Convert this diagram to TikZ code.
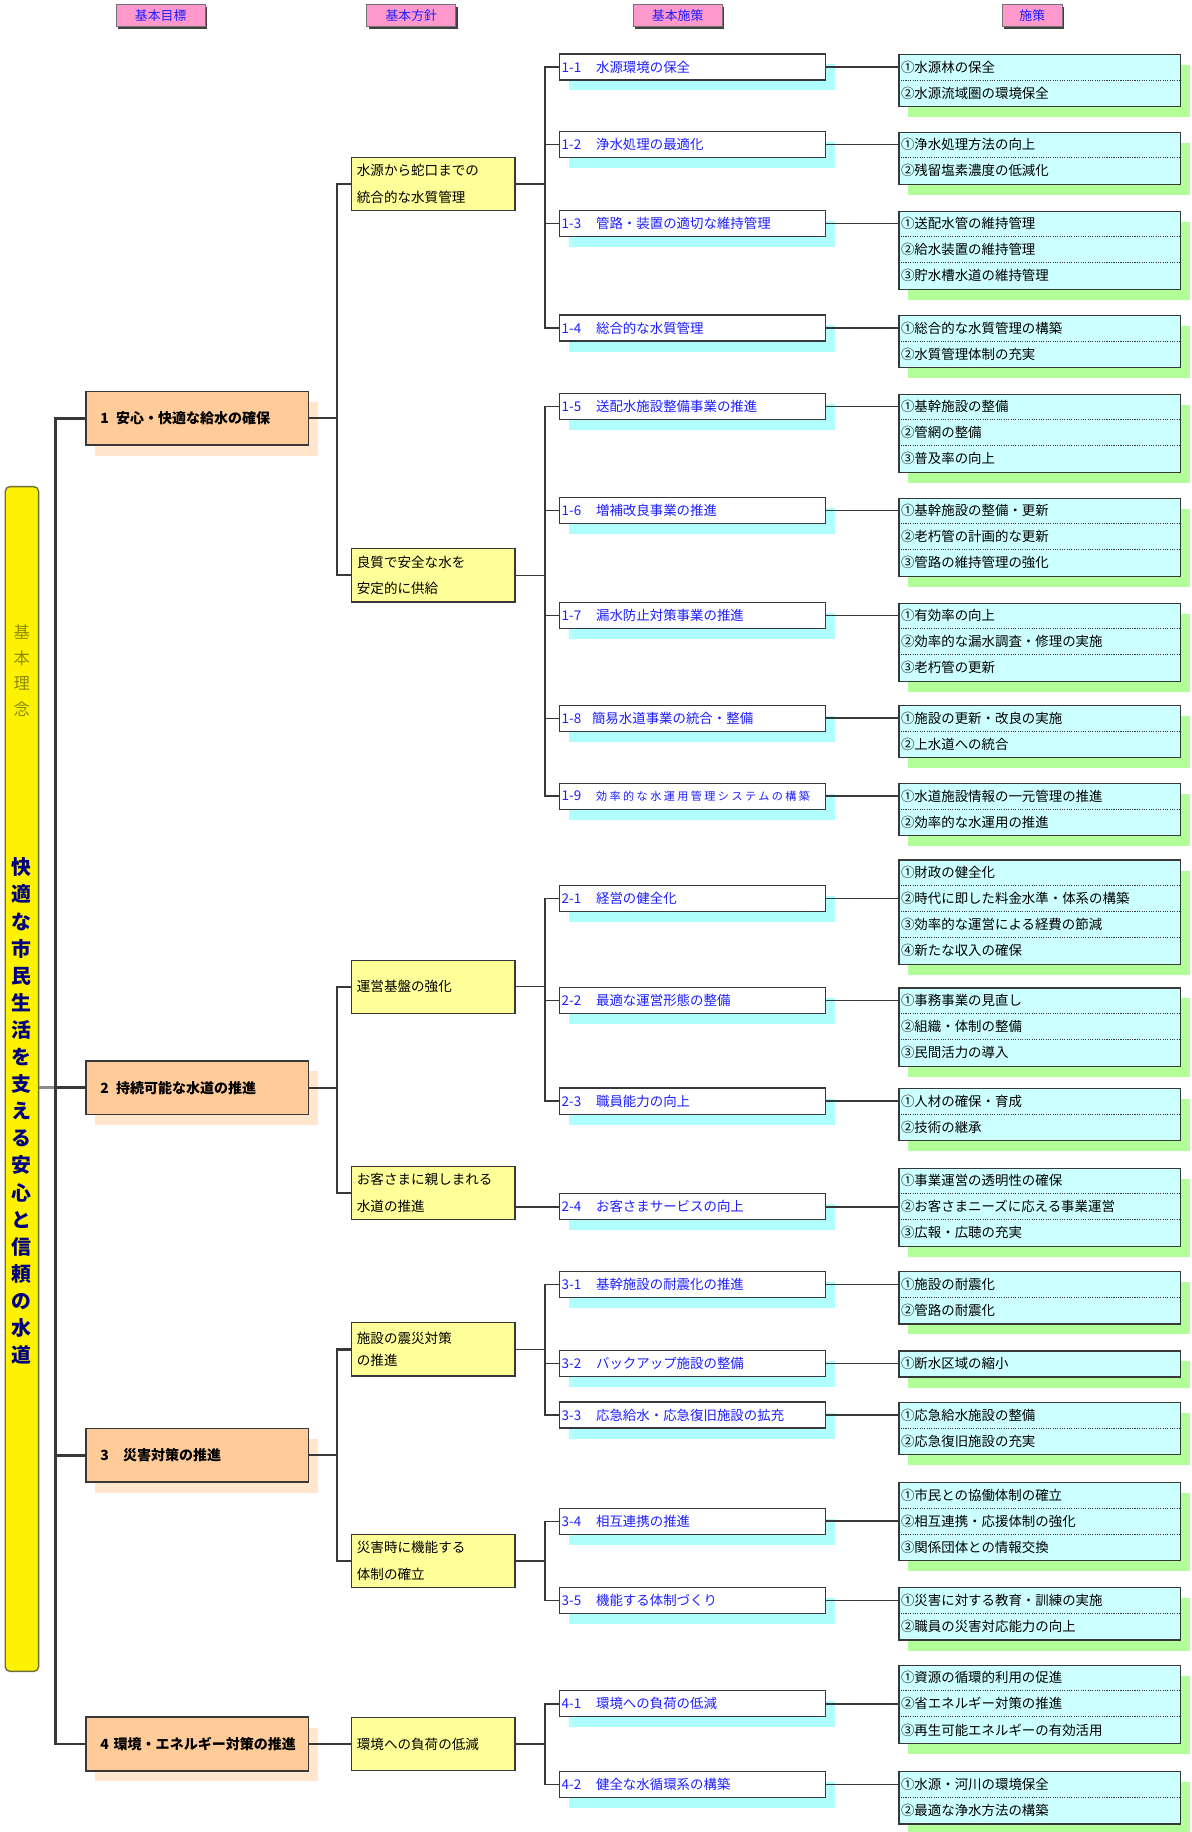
\documentclass[tikz,border=0pt]{standalone}
\usepackage{fontspec}
\setmainfont{Noto Sans CJK JP}
\usetikzlibrary{calc,shadows}
\definecolor{goalc}{HTML}{FFCC99}
\definecolor{goalsh}{HTML}{FFE6CC}
\definecolor{polc}{HTML}{FFFF99}
\definecolor{subsh}{HTML}{AFFFFF}
\definecolor{meac}{HTML}{CCFFFF}
\definecolor{meash}{HTML}{B2FF99}
\definecolor{hdrc}{HTML}{FF99CC}
\definecolor{linec}{HTML}{383838}
\definecolor{bluet}{HTML}{1E1EFF}
\definecolor{navyt}{HTML}{000080}
\definecolor{olivet}{RGB}{140,140,0}
\definecolor{barbd}{RGB}{110,110,60}
\newcommand{\lab}[3][29.5pt]{\makebox[#1][l]{#2}#3}
% measure box: name, top y, number of rows, rows
\newcommand{\mbx}[4]{%
  \node[meas, minimum height={22.3*#3}, anchor=north west] (#1) at (769,#2) {};
  \foreach \t [count=\k] in {#4} {
    \node[mrow] (#1r\k) at ($(#1.north west)+(0,{22.3*\k-11.15})$) {\t};
    \ifnum\k>1
      \draw[dotsep] ($(#1.north west)+(0,{22.3*(\k-1)})$) -- ($(#1.north east)+(0,{22.3*(\k-1)})$);
    \fi
  }
}
\begin{document}
\begin{tikzpicture}[x=1pt,y=-1pt,
  hdr/.style={draw=black!55, line width=0.8pt, fill=hdrc, text=bluet, font=\fontsize{11}{13}\selectfont, minimum height=19, inner sep=0, drop shadow={shadow xshift=1.6pt, shadow yshift=-1.6pt, fill=black!75, opacity=1}},
  goal/.style={draw=linec, line width=1.2pt, fill=goalc, minimum height=46, text width=165.6, inner xsep=12.4, inner ysep=0, align=left, font=\bfseries\fontsize{12}{14}\selectfont, drop shadow={shadow xshift=8pt, shadow yshift=-9pt, fill=goalsh, opacity=1}},
  pol/.style={draw=linec, line width=1pt, fill=polc, minimum height=45.5, text width=130.8, inner xsep=4.5, inner ysep=0, align=left, font=\fontsize{11.6}{23}\selectfont},
  sub/.style={draw=linec, line width=1pt, fill=white, text=bluet, minimum height=22.3, text width=223.8, inner xsep=2, inner ysep=0, align=left, font=\fontsize{11.5}{13}\selectfont, drop shadow={shadow xshift=8pt, shadow yshift=-9pt, fill=subsh, opacity=1}},
  meas/.style={draw=linec, line width=1pt, fill=meac, minimum width=241, inner sep=0, drop shadow={shadow xshift=8pt, shadow yshift=-9pt, fill=meash, opacity=1}},
  mrow/.style={anchor=west, inner xsep=2, inner ysep=0, font=\fontsize{11.5}{13}\selectfont},
  dotsep/.style={draw=linec, line width=0.7pt, dash pattern=on 0.9pt off 1.1pt},
  trunk/.style={draw=linec, line width=2.4pt},
  l1/.style={draw=linec, line width=1.8pt},
  l2/.style={draw=linec, line width=1.2pt},
  l3/.style={draw=linec, line width=1.3pt},
]
\useasboundingbox (0,0) rectangle (1020,1568);

% headers
\node[hdr, minimum width=76] (h1) at (137.5,13.5) {基本目標};
\node[hdr, minimum width=76] (h2) at (352,13.5) {基本方針};
\node[hdr, minimum width=76] (h3) at (580,13.5) {基本施策};
\node[hdr, minimum width=51] (h4) at (883.5,13.5) {施策};

% basic philosophy bar
\node[draw=barbd, line width=1.2pt, fill=yellow, rounded corners=4pt, minimum width=28.5, minimum height=1014, inner sep=0] (bar) at (18.75,923.5) {};
\node[text=olivet, align=center, font=\fontsize{14}{22}\selectfont, inner sep=0] (kr) at (18.75,574) {基\\本\\理\\念};
\node[text=navyt, align=center, font=\bfseries\fontsize{17}{23.2}\selectfont, inner sep=0] (kt) at (18.75,951) {快\\適\\な\\市\\民\\生\\活\\を\\支\\え\\る\\安\\心\\と\\信\\頼\\の\\水\\道};

% goals
\node[goal] (g1) at (168.8,358) {1\enspace 安心・快適な給水の確保};
\node[goal] (g2) at (168.8,931) {2\enspace 持続可能な水道の推進};
\node[goal] (g3) at (168.8,1245.5) {3\quad 災害対策の推進};
\node[goal] (g4) at (168.8,1492.6) {\mbox{4 環境・エネルギー対策の推進}};

% policies
\node[pol] (p1) at (370.9,157.5) {水源から蛇口までの\\統合的な水質管理};
\node[pol] (p2) at (370.9,492.5) {良質で安全な水を\\安定的に供給};
\node[pol] (p3) at (370.9,844.5) {運営基盤の強化};
\node[pol] (p4) at (370.9,1021) {お客さまに親しまれる\\水道の推進};
\node[pol] (p5) at (370.9,1155) {施設の震災対策\\[-4.5pt]の推進};
\node[pol] (p6) at (370.9,1336) {災害時に機能する\\体制の確立};
\node[pol] (p7) at (370.9,1492.6) {環境への負荷の低減};

% basic measures
\node[sub] (s11) at (592.6,57.3) {\lab{1-1}{水源環境の保全}};
\node[sub] (s12) at (592.6,123.8) {\lab{1-2}{浄水処理の最適化}};
\node[sub] (s13) at (592.6,191.4) {\lab{1-3}{管路・装置の適切な維持管理}};
\node[sub] (s14) at (592.6,280.7) {\lab{1-4}{総合的な水質管理}};
\node[sub] (s15) at (592.6,348) {\lab{1-5}{送配水施設整備事業の推進}};
\node[sub] (s16) at (592.6,437) {\lab{1-6}{増補改良事業の推進}};
\node[sub] (s17) at (592.6,527) {\lab{1-7}{漏水防止対策事業の推進}};
\node[sub] (s18) at (592.6,614.7) {\lab[26pt]{1-8}{簡易水道事業の統合・整備}};
\node[sub] (s19) at (592.6,681.4) {\lab{1-9}{{\fontsize{9.5}{13}\selectfont\addfontfeature{LetterSpace=22}効率的な水運用管理システムの構築}}};
\node[sub] (s21) at (592.6,769) {\lab{2-1}{経営の健全化}};
\node[sub] (s22) at (592.6,856.2) {\lab{2-2}{最適な運営形態の整備}};
\node[sub] (s23) at (592.6,942.4) {\lab{2-3}{職員能力の向上}};
\node[sub] (s24) at (592.6,1032.9) {\lab{2-4}{お客さまサービスの向上}};
\node[sub] (s31) at (592.6,1099.2) {\lab{3-1}{基幹施設の耐震化の推進}};
\node[sub] (s32) at (592.6,1166.9) {\lab{3-2}{バックアップ施設の整備}};
\node[sub] (s33) at (592.6,1211.1) {\lab{3-3}{応急給水・応急復旧施設の拡充}};
\node[sub] (s34) at (592.6,1302) {\lab{3-4}{相互連携の推進}};
\node[sub] (s35) at (592.6,1369.7) {\lab{3-5}{機能する体制づくり}};
\node[sub] (s41) at (592.6,1458.3) {\lab{4-1}{環境への負荷の低減}};
\node[sub] (s42) at (592.6,1527.2) {\lab{4-2}{健全な水循環系の構築}};

% measures
\mbx{m11}{46.15}{2}{①水源林の保全,②水源流域圏の環境保全}
\mbx{m12}{112.65}{2}{①浄水処理方法の向上,②残留塩素濃度の低減化}
\mbx{m13}{180.25}{3}{①送配水管の維持管理,②給水装置の維持管理,③貯水槽水道の維持管理}
\mbx{m14}{269.55}{2}{①総合的な水質管理の構築,②水質管理体制の充実}
\mbx{m15}{336.85}{3}{①基幹施設の整備,②管網の整備,③普及率の向上}
\mbx{m16}{425.85}{3}{①基幹施設の整備・更新,②老朽管の計画的な更新,③管路の維持管理の強化}
\mbx{m17}{515.85}{3}{①有効率の向上,②効率的な漏水調査・修理の実施,③老朽管の更新}
\mbx{m18}{603.55}{2}{①施設の更新・改良の実施,②上水道への統合}
\mbx{m19}{670.25}{2}{①水道施設情報の一元管理の推進,②効率的な水運用の推進}
\mbx{m21}{735.55}{4}{①財政の健全化,②時代に即した料金水準・体系の構築,③効率的な運営による経費の節減,④新たな収入の確保}
\mbx{m22}{845.05}{3}{①事務事業の見直し,②組織・体制の整備,③民間活力の導入}
\mbx{m23}{931.25}{2}{①人材の確保・育成,②技術の継承}
\mbx{m24}{999.45}{3}{①事業運営の透明性の確保,②お客さまニーズに応える事業運営,③広報・広聴の充実}
\mbx{m31}{1088.05}{2}{①施設の耐震化,②管路の耐震化}
\mbx{m32}{1155.75}{1}{①断水区域の縮小}
\mbx{m33}{1199.95}{2}{①応急給水施設の整備,②応急復旧施設の充実}
\mbx{m34}{1268.55}{3}{①市民との協働体制の確立,②相互連携・応援体制の強化,③関係団体との情報交換}
\mbx{m35}{1358.55}{2}{①災害に対する教育・訓練の実施,②職員の災害対応能力の向上}
\mbx{m41}{1424.85}{3}{①資源の循環的利用の促進,②省エネルギー対策の推進,③再生可能エネルギーの有効活用}
\mbx{m42}{1516.05}{2}{①水源・河川の環境保全,②最適な浄水方法の構築}

% trunk
\draw[draw=black!45, line width=2.4pt] (bar.east |- g2.west) -- ++(14.5,0);
\draw[trunk] (g1.west) -- ++(-25.6,0) |- (g4.west);
\draw[trunk] (g2.west) -- ++(-25.6,0);
\draw[trunk] (g3.west) -- ++(-25.6,0);

% goal -> policy
\draw[l1] (g1.east) -- ++(24,0) |- (p1.west);
\draw[l1] (g1.east) -- ++(24,0) |- (p2.west);
\draw[l1] (g2.east) -- ++(24,0) |- (p3.west);
\draw[l1] (g2.east) -- ++(24,0) |- (p4.west);
\draw[l1] (g3.east) -- ++(24,0) |- (p5.west);
\draw[l1] (g3.east) -- ++(24,0) |- (p6.west);
\draw[l1] (g4.east) -- (p7.west);

% policy -> basic measures
\foreach \p/\s in {p1/s11,p1/s12,p1/s13,p1/s14,p2/s15,p2/s16,p2/s17,p2/s18,p2/s19,p3/s21,p3/s22,p3/s23,p5/s31,p5/s32,p5/s33,p6/s34,p6/s35,p7/s41,p7/s42}
  \draw[l2] (\p.east) -- ++(25.2,0) |- (\s.west);
\draw[l2] (s24.west -| p4.east) -- (s24.west);

% basic measures -> measures
\foreach \s/\m in {s11/m11,s12/m12,s13/m13,s14/m14,s15/m15,s16/m16,s17/m17,s18/m18,s19/m19,s21/m21,s22/m22,s23/m23,s24/m24,s31/m31,s32/m32,s33/m33,s34/m34,s35/m35,s41/m41,s42/m42}
  \draw[l3] (\s.east) -- (\s.east -| \m.west);
\end{tikzpicture}
\end{document}
